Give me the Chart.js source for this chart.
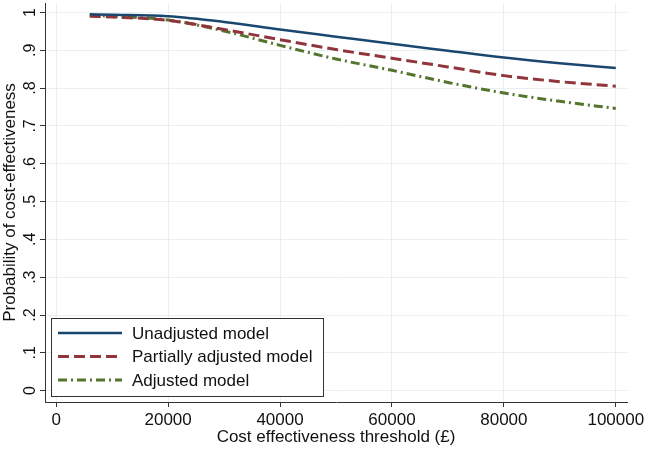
<!DOCTYPE html>
<html>
<head>
<meta charset="utf-8">
<script src="https://cdn.jsdelivr.net/npm/chart.js@4/dist/chart.umd.min.js"></script>
<style>
  html, body { margin: 0; padding: 0; background: #fff; }
  #wrap { width: 646px; height: 449px; position: relative; }
</style>
</head>
<body>
<div id="wrap"><canvas id="ceac"></canvas></div>
<script>
// thresholds (x) and probabilities
const thresholds = [6000, 10000, 20000, 30000, 40000, 50000, 60000, 70000, 80000, 90000, 100000];
const unadjusted = [0.995, 0.994, 0.990, 0.975, 0.955, 0.936, 0.917, 0.899, 0.881, 0.866, 0.853];
const partial    = [0.990, 0.988, 0.979, 0.955, 0.928, 0.902, 0.879, 0.856, 0.833, 0.817, 0.805];
const adjusted   = [0.992, 0.990, 0.980, 0.951, 0.913, 0.877, 0.847, 0.815, 0.787, 0.765, 0.746];

const seriesNames = ['Unadjusted model', 'Partially adjusted model', 'Adjusted model'];

const xTicks = [0, 20000, 40000, 60000, 80000, 100000];
const yTicks = [0, 0.1, 0.2, 0.3, 0.4, 0.5, 0.6, 0.7, 0.8, 0.9, 1];
const yTickLabels = ['0', '.1', '.2', '.3', '.4', '.5', '.6', '.7', '.8', '.9', '1'];

const FONT = 'Arial, "Liberation Sans", Helvetica, sans-serif';
const GRID = '#e8eff4';
const AXIS = '#333333';

function pts(ys) {
    return thresholds.map((x, i) => ({ x: x, y: ys[i] }));
}

// legend drawn inside the plot, bottom-left, Stata style
const boxLegend = {
    id: 'boxLegend',
    afterDraw(chart) {
        const ctx = chart.ctx;
        const area = chart.chartArea;
        const bx = area.left + 6, by = area.bottom - 84, bw = 272, bh = 78;
        ctx.save();
        ctx.fillStyle = '#fff';
        ctx.fillRect(bx, by, bw, bh);
        ctx.strokeStyle = AXIS;
        ctx.lineWidth = 1;
        ctx.strokeRect(bx + 0.5, by + 0.5, bw, bh);
        chart.data.datasets.forEach((ds, i) => {
            const y = by + 15 + i * 23.5;
            ctx.beginPath();
            ctx.setLineDash(ds.borderDash || []);
            ctx.strokeStyle = ds.borderColor;
            ctx.lineWidth = ds.borderWidth;
            ctx.moveTo(bx + 7, y);
            ctx.lineTo(bx + 71, y);
            ctx.stroke();
            ctx.setLineDash([]);
            ctx.fillStyle = '#111';
            ctx.font = '17px ' + FONT;
            ctx.textBaseline = 'middle';
            ctx.textAlign = 'left';
            ctx.fillText(ds.label, bx + 81, y + 1);
        });
        ctx.restore();
    }
};

new Chart(document.getElementById('ceac'), {
    type: 'line',
    data: {
        datasets: [
            {
                label: seriesNames[0],
                data: pts(unadjusted),
                borderColor: '#1a476f',
                borderWidth: 2.5
            },
            {
                label: seriesNames[1],
                data: pts(partial),
                borderColor: '#90353b',
                borderWidth: 3,
                borderDash: [11, 5]
            },
            {
                label: seriesNames[2],
                data: pts(adjusted),
                borderColor: '#55752f',
                borderWidth: 3,
                borderDash: [9, 4, 2, 4]
            }
        ]
    },
    options: {
        responsive: true,
        maintainAspectRatio: false,
        animation: false,
        layout: { padding: { left: 0, right: 19, top: 3, bottom: 0 } },
        elements: {
            point: { radius: 0 },
            line: { cubicInterpolationMode: 'monotone', fill: false }
        },
        plugins: {
            legend: { display: false },
            tooltip: { enabled: false }
        },
        scales: {
            x: {
                type: 'linear',
                min: -2000,
                max: 102000,
                afterBuildTicks(s) { s.ticks = xTicks.map(v => ({ value: v })); },
                afterFit(s) { s.height = 47; s.paddingLeft = 0; s.paddingRight = 0; },
                grid: { color: GRID, tickColor: AXIS, tickLength: 5, lineWidth: 1 },
                border: { color: AXIS, width: 1 },
                ticks: {
                    color: '#111',
                    font: { family: FONT, size: 17 },
                    padding: 3,
                    maxRotation: 0,
                    callback: v => String(v)
                },
                title: {
                    display: true,
                    text: 'Cost effectiveness threshold (£)',
                    color: '#111',
                    font: { family: FONT, size: 17 },
                    padding: { top: 0, bottom: 1 }
                }
            },
            y: {
                type: 'linear',
                min: -0.03,
                max: 1.025,
                afterBuildTicks(s) { s.ticks = yTicks.map(v => ({ value: v })); },
                afterFit(s) { s.width = 45; s.paddingTop = 0; s.paddingBottom = 0; },
                grid: { color: GRID, tickColor: AXIS, tickLength: 5, lineWidth: 1 },
                border: { color: AXIS, width: 1 },
                ticks: {
                    color: '#111',
                    font: { family: FONT, size: 16 },
                    minRotation: 90,
                    maxRotation: 90,
                    crossAlign: 'center',
                    padding: 3,
                    callback: (v, i) => yTickLabels[yTicks.indexOf(v)] ?? ''
                },
                title: {
                    display: true,
                    text: 'Probability of cost-effectiveness',
                    color: '#111',
                    font: { family: FONT, size: 17 },
                    padding: { top: 0, bottom: 0 }
                }
            }
        }
    },
    plugins: [boxLegend]
});
</script>
</body>
</html>
